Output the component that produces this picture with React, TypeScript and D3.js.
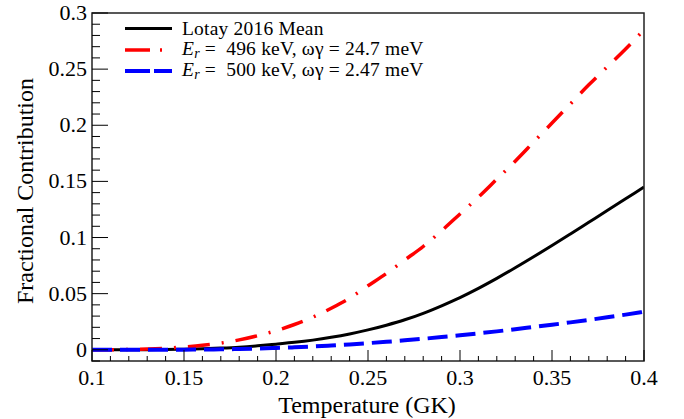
import { useEffect, useRef } from "react";
import * as d3 from "d3";

// Temperature grid (GK)
const temps = [
  0.10, 0.11, 0.12, 0.13, 0.14, 0.15, 0.16, 0.17, 0.18, 0.19, 0.20,
  0.21, 0.22, 0.23, 0.24, 0.25, 0.26, 0.27, 0.28, 0.29, 0.30,
  0.31, 0.32, 0.33, 0.34, 0.35, 0.36, 0.37, 0.38, 0.39, 0.40,
];

// Lotay 2016 Mean
const meanValues = [
  0, 0, 0, 0.0001, 0.0002, 0.0005, 0.0009, 0.0015, 0.0023, 0.0035, 0.005,
  0.0066, 0.0086, 0.0111, 0.0141, 0.0177, 0.0219, 0.0267, 0.0325, 0.0392, 0.0465,
  0.0547, 0.0636, 0.073, 0.0828, 0.0929, 0.1032, 0.1136, 0.124, 0.1345, 0.145,
];

// Er = 496 keV, wg = 24.7 meV
const res496Values = [
  0, 0, 0.0002, 0.0006, 0.0013, 0.0025, 0.004, 0.006, 0.0088, 0.0125, 0.017,
  0.0225, 0.029, 0.037, 0.046, 0.057, 0.068, 0.08, 0.092, 0.106, 0.121,
  0.136, 0.152, 0.168, 0.185, 0.202, 0.219, 0.236, 0.252, 0.268, 0.285,
];

// Er = 500 keV, wg = 2.47 meV
const res500Values = [
  0, 0, 0, 0, 0, 0.0001, 0.0002, 0.0004, 0.0007, 0.0011, 0.0016,
  0.0022, 0.0029, 0.0038, 0.0048, 0.0059, 0.0071, 0.0084, 0.0098, 0.0113, 0.0129,
  0.0146, 0.0164, 0.0183, 0.0203, 0.0223, 0.0244, 0.0266, 0.0289, 0.0313, 0.0338,
];

const xTicks = [0.1, 0.15, 0.2, 0.25, 0.3, 0.35, 0.4];
const xTickLabels = ["0.1", "0.15", "0.2", "0.25", "0.3", "0.35", "0.4"];
const yTicks = [0, 0.05, 0.1, 0.15, 0.2, 0.25, 0.3];
const yTickLabels = ["0", "0.05", "0.1", "0.15", "0.2", "0.25", "0.3"];

const legendNames = ["Lotay 2016 Mean", "496 keV, ωγ = 24.7 meV", "500 keV, ωγ = 2.47 meV"];

const FONT = "'Liberation Serif', 'Times New Roman', serif";

function App() {
  const svgRef = useRef<SVGSVGElement>(null);
  const width = 684;
  const height = 419;
  const margin = { top: 13, right: 40, bottom: 58, left: 92 };

  useEffect(() => {
    document.body.style.margin = "0";
    const svg = d3.select(svgRef.current);
    svg.selectAll("*").remove();

    const x = d3.scaleLinear().domain([0.1, 0.4]).range([margin.left, width - margin.right]);
    const y = d3.scaleLinear().domain([-0.01, 0.3]).range([height - margin.bottom, margin.top]);

    const x0 = margin.left, x1 = width - margin.right;
    const y0 = height - margin.bottom, y1 = margin.top;

    svg.append("rect").attr("width", width).attr("height", height).attr("fill", "white");

    // curves
    const series = [
      { values: meanValues, color: "#000000", width: 3, dash: null, legendDash: null },
      { values: res496Values, color: "#ff0000", width: 3.5, dash: "22,12,2,12", legendDash: "25,10,2,20" },
      { values: res500Values, color: "#0000ff", width: 4, dash: "20,8", legendDash: "25,4" },
    ];
    const line = d3.line<number>()
      .x((_, i) => x(temps[i]))
      .y((d) => y(d))
      .curve(d3.curveMonotoneX);

    const clip = svg.append("clipPath").attr("id", "plotclip");
    clip.append("rect").attr("x", x0).attr("y", y1).attr("width", x1 - x0).attr("height", y0 - y1);

    const curves = svg.append("g").attr("clip-path", "url(#plotclip)");
    series.forEach((s) => {
      curves.append("path")
        .datum(s.values)
        .attr("fill", "none")
        .attr("stroke", s.color)
        .attr("stroke-width", s.width)
        .attr("stroke-dasharray", s.dash)
        .attr("d", line);
    });

    // frame
    svg.append("rect")
      .attr("x", x0).attr("y", y1)
      .attr("width", x1 - x0).attr("height", y0 - y1)
      .attr("fill", "none").attr("stroke", "#222").attr("stroke-width", 1.5);

    // x axis ticks (inward)
    const xMinor = d3.range(0.1, 0.4001, 0.01);
    const gx = svg.append("g");
    xMinor.forEach((t) => {
      const major = xTicks.some((m) => Math.abs(m - t) < 1e-6);
      gx.append("line")
        .attr("x1", x(t)).attr("x2", x(t))
        .attr("y1", y0).attr("y2", y0 - (major ? 11 : 5))
        .attr("stroke", "#000").attr("stroke-width", 1);
    });
    xTicks.forEach((t, i) => {
      gx.append("text")
        .attr("x", x(t)).attr("y", y0 + 24)
        .attr("text-anchor", "middle")
        .attr("font-family", FONT).attr("font-size", 22)
        .text(xTickLabels[i]);
    });

    // y axis ticks (inward)
    const yMinor = d3.range(-0.01, 0.3001, 0.01);
    const gy = svg.append("g");
    yMinor.forEach((v) => {
      const major = yTicks.some((m) => Math.abs(m - v) < 1e-6);
      gy.append("line")
        .attr("x1", x0).attr("x2", x0 + (major ? 16 : 8))
        .attr("y1", y(v)).attr("y2", y(v))
        .attr("stroke", "#000").attr("stroke-width", 1);
    });
    yTicks.forEach((v, i) => {
      gy.append("text")
        .attr("x", x0 - 5).attr("y", y(v) + 7)
        .attr("text-anchor", "end")
        .attr("font-family", FONT).attr("font-size", 22)
        .text(yTickLabels[i]);
    });

    // axis titles
    svg.append("text")
      .attr("x", 367).attr("y", 413)
      .attr("text-anchor", "middle")
      .attr("font-family", FONT).attr("font-size", 24)
      .text("Temperature (GK)");
    svg.append("text")
      .attr("transform", `translate(33, 191) rotate(-90)`)
      .attr("text-anchor", "middle")
      .attr("font-family", FONT).attr("font-size", 24)
      .text("Fractional Contribution");

    // legend
    const legend = svg.append("g");
    const rowY = [28.5, 50, 71];
    const baseY = [34.5, 54.5, 76];
    series.forEach((s, i) => {
      legend.append("line")
        .attr("x1", 125).attr("x2", 172)
        .attr("y1", rowY[i]).attr("y2", rowY[i])
        .attr("stroke", s.color)
        .attr("stroke-width", s.width)
        .attr("stroke-dasharray", s.legendDash);
      const txt = legend.append("text")
        .attr("x", 182).attr("y", baseY[i])
        .attr("font-family", FONT).attr("font-size", 19.5)
        .attr("letter-spacing", 0.2)
        .style("white-space", "pre");
      if (i === 0) {
        txt.text(legendNames[i]);
      } else {
        txt.append("tspan").attr("font-style", "italic").text("E");
        txt.append("tspan").attr("font-style", "italic").attr("font-size", 14).attr("dy", 3).text("r");
        txt.append("tspan").attr("dy", -3).text(" =  ");
        txt.append("tspan").text(legendNames[i]);
      }
    });
  }, []);

  return <svg ref={svgRef} width={width} height={height} style={{ display: "block" }} />;
}

export default App;
